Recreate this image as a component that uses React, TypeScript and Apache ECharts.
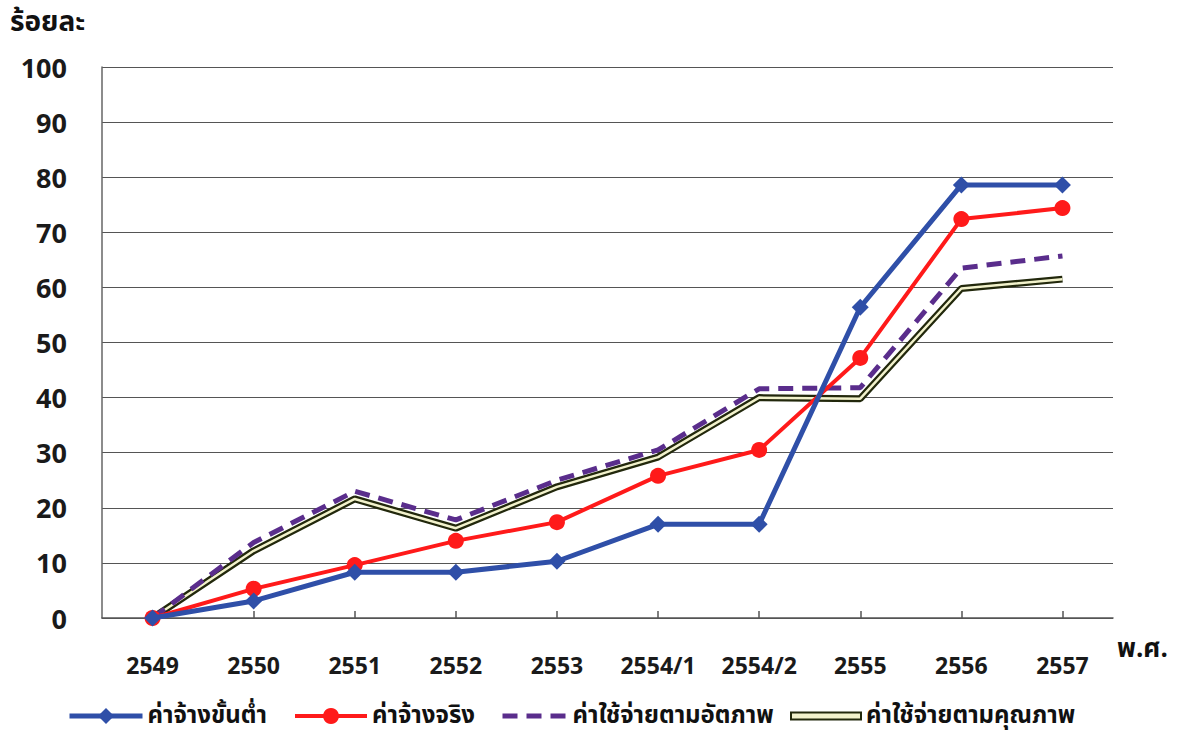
import React, { useEffect, useRef } from "react";
import * as echarts from "echarts";

const categories = ["2549", "2550", "2551", "2552", "2553", "2554/1", "2554/2", "2555", "2556", "2557"];
const minWage = [0, 3.1, 8.3, 8.3, 10.3, 17.0, 17.0, 56.4, 78.6, 78.6];
const actualWage = [0, 5.3, 9.6, 14.0, 17.4, 25.8, 30.5, 47.2, 72.4, 74.4];
const livingCost = [0, 13.7, 23.0, 17.8, 25.0, 30.5, 41.6, 41.8, 63.5, 65.7];
const qualityCost = [0, 12.2, 21.6, 16.3, 23.8, 29.2, 40.0, 39.8, 59.8, 61.5];

const names = ["ค่าจ้างขั้นต่ำ", "ค่าจ้างจริง", "ค่าใช้จ่ายตามอัตภาพ", "ค่าใช้จ่ายตามคุณภาพ"];
const yTicks = { min: 0, max: 100, interval: 10 };

const THAI = 'Tahoma, "Noto Sans Thai", "Noto Sans", "DejaVu Sans", sans-serif';
const NUM = '"Open Sans", "Noto Sans", sans-serif';

const legendText = { fontFamily: THAI, fontWeight: "bold", fontSize: 24, lineHeight: 28, color: "#111" };
const LEG_TOP = 697;

export default function App() {
  const ref = useRef<HTMLDivElement>(null);
  useEffect(() => {
    if (!ref.current) return;
    const chart = echarts.init(ref.current, undefined, { renderer: "svg" });
    chart.setOption({
      animation: false,
      backgroundColor: "#ffffff",
      grid: { left: 102, right: 74, top: 67, bottom: 116, containLabel: false },
      xAxis: {
        type: "category",
        data: categories,
        boundaryGap: true,
        axisLine: { show: true, lineStyle: { color: "#555", width: 1.5 } },
        axisTick: { show: true, alignWithLabel: true, inside: true, length: 7, lineStyle: { color: "#555", width: 1.5 } },
        axisLabel: { color: "#1a1a1a", fontFamily: NUM, fontWeight: "bold", fontSize: 23, margin: 35, interval: 0 },
        splitLine: { show: false },
      },
      yAxis: {
        type: "value",
        min: yTicks.min,
        max: yTicks.max,
        interval: yTicks.interval,
        axisLine: { show: true, lineStyle: { color: "#666", width: 1.5 } },
        axisTick: { show: false },
        axisLabel: { color: "#1a1a1a", fontFamily: NUM, fontWeight: "bold", fontSize: 27, margin: 35 },
        splitLine: { show: true, lineStyle: { color: "#555", width: 1.2 } },
      },
      legend: [
        {
          data: [names[0]],
          left: 62,
          top: LEG_TOP,
          itemWidth: 73,
          itemHeight: 20,
          lineStyle: { width: 5 },
          textStyle: legendText,
        },
        {
          data: [names[1]],
          left: 288,
          top: LEG_TOP,
          itemWidth: 72,
          itemHeight: 20,
          lineStyle: { width: 4 },
          textStyle: legendText,
        },
        {
          data: [{ name: names[2], itemStyle: { opacity: 0 } }],
          left: 495,
          top: LEG_TOP,
          itemWidth: 65,
          itemHeight: 20,
          lineStyle: { width: 5 },
          textStyle: legendText,
        },
        {
          data: [
            {
              name: names[3],
              icon: "rect",
              itemStyle: { color: "#f2f2cc", borderColor: "#22280c", borderWidth: 2 },
            },
          ],
          left: 785,
          top: LEG_TOP,
          itemWidth: 70,
          itemHeight: 7,
          textStyle: legendText,
        },
      ],
      graphic: [
        { type: "text", left: 10, top: 8, style: { text: "ร้อยละ", fontFamily: THAI, fontWeight: "bold", fontSize: 28, fill: "#111" } },
        { type: "text", left: 1117, top: 636, style: { text: "พ.ศ.", fontFamily: THAI, fontWeight: "bold", fontSize: 26, fill: "#111" } },
      ],
      series: [
        {
          name: names[3],
          type: "line",
          data: qualityCost,
          symbol: "none",
          lineStyle: { color: "#22280c", width: 7 },
          itemStyle: { color: "#22280c" },
          z: 2,
        },
        {
          name: "_inner",
          type: "line",
          data: qualityCost,
          symbol: "none",
          silent: true,
          lineStyle: { color: "#f2f2cc", width: 2.5 },
          z: 3,
        },
        {
          name: names[2],
          type: "line",
          data: livingCost,
          symbol: "none",
          lineStyle: { color: "#5a2d8c", width: 5, type: [15, 9] },
          itemStyle: { color: "#5a2d8c" },
          z: 4,
        },
        {
          name: names[1],
          type: "line",
          data: actualWage,
          symbol: "circle",
          symbolSize: 16,
          lineStyle: { color: "#ff1a1a", width: 4 },
          itemStyle: { color: "#ff1a1a" },
          z: 5,
        },
        {
          name: names[0],
          type: "line",
          data: minWage,
          symbol: "diamond",
          symbolSize: 17,
          lineStyle: { color: "#2f4fa8", width: 5 },
          itemStyle: { color: "#2f4fa8" },
          z: 6,
        },
      ],
    });
    return () => chart.dispose();
  }, []);
  return <div ref={ref} style={{ position: "fixed", left: 0, top: 0, width: 1187, height: 734 }} />;
}
